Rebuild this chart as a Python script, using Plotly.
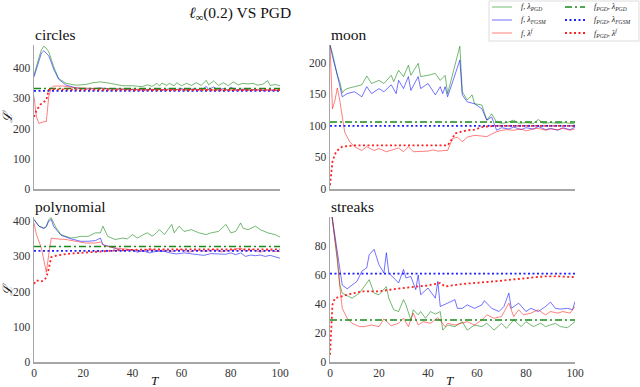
import plotly.graph_objects as go

# ---------------- data ----------------
# circles
circles_t_green = [0,1,2,3,4,5,6,7,8,10,13,17,21,24,27,31,36,40,44,46,48,50,51,52,54,55,57,58,60,62,64,66,68,70,71,73,75,77,79,81,83,85,87,89,91,93,95,96,98,100]
circles_green = [377,410,435,460,473,466,455,430,405,366,350,344,346,352,355,350,342,342,339,345,340,350,341,351,343,350,342,352,342,350,343,352,343,360,345,358,343,352,342,355,345,350,348,350,344,347,359,343,346,342]
circles_t_blue = [0,1,2,3,4,5,6,7,8,10,13,17,21,25,27,30,35,40,45,50,52,55,57,60,62,65,68,70,71,73,75,77,79,80,82,85,88,90,93,95,98,100]
circles_blue = [371,400,425,450,458,449,441,420,397,364,344,335,331,333,335,332,331,330,328,331,327,332,328,333,327,332,327,340,329,338,328,333,327,338,328,331,327,330,326,328,327,326]
circles_t_red = [0,1,2,3,4,5,6,7,8,12,17,27,35,45,55,65,75,85,95,100]
circles_red = [306,239,217,220,223,223,306,335,341,341,335,333,331,330,329,330,328,329,328,328]
circles_t_reddot = [0,1,3,5,6,7,10,20,40,60,80,100]
circles_reddot = [239,261,283,294,328,331,330,329,328,328,328,328]
circles_pgd_pgd = 333
circles_pgd_fgsm = 325

# moon
moon_t_green = [0,1,3,4,5,6,7,10,13,15,17,20,22,25,26,28,30,32,33,36,37,40,43,45,47,48,50,53,54,56,58,59,62,64,66,68,70,72,75,77,80,83,85,87,90,93,96,100]
moon_green = [228,215,180,170,152,157,159,162,165,179,167,172,167,180,170,188,178,196,180,199,178,180,183,172,180,151,180,226,154,141,149,135,133,109,119,106,104,105,109,104,105,104,110,104,105,104,105,103]
moon_t_blue = [0,1,3,5,7,10,13,15,17,20,22,25,27,28,30,32,33,36,37,40,43,45,46,47,48,53,54,56,59,62,64,66,68,70,73,75,78,80,83,85,88,90,93,95,98,100]
moon_blue = [228,210,180,146,151,154,146,162,151,159,154,165,151,172,159,178,156,178,159,167,149,162,151,162,146,204,149,138,135,127,109,114,93,97,95,98,94,97,95,99,94,96,93,97,94,98]
moon_t_red = [0,1,2,3,4,5,6,8,10,13,15,18,20,23,25,28,30,32,34,37,40,42,44,47,48,50,52,54,56,59,62,64,67,69,72,75,78,80,83,85,88,90,93,95,98,100]
moon_red = [228,127,140,160,140,115,90,75,67,61,67,61,64,59,61,65,59,67,59,59,60,62,60,61,61,80,82,75,82,85,84,83,89,92,94,93,95,92,95,96,93,95,94,96,93,95]
moon_t_reddot = [0,1,2,3,5,7,10,20,30,40,48,50,51,53,56,59,62,67,75,85,100]
moon_reddot = [6,43,55,61,67,68,69,69,69,69,69,80,88,90,93,94,98,100,100,99,100]
moon_pgd_pgd = 106
moon_pgd_fgsm = 100

# polynomial
poly_t_green = [0,2,4,5,6,7,8,9,11,13,15,17,19,22,25,27,28,30,33,36,38,40,42,44,46,48,49,51,53,56,57,59,61,64,66,67,70,72,75,78,80,82,84,85,87,90,92,94,95,98,100]
poly_green = [405,386,381,385,405,410,395,381,362,357,352,354,357,357,367,367,386,357,348,352,350,362,352,360,367,358,362,376,362,391,367,386,371,376,369,367,362,367,371,391,367,371,395,380,376,386,376,370,367,362,355]
poly_t_blue = [0,2,4,5,6,7,8,9,11,15,19,22,25,27,28,30,33,36,40,42,44,47,50,53,56,58,61,64,67,69,72,75,78,80,82,84,86,88,90,92,94,96,98,100]
poly_blue = [405,386,379,385,400,405,385,376,360,350,343,343,345,352,333,330,322,316,319,312,316,310,315,314,309,307,310,307,305,303,308,307,306,310,305,310,300,304,302,304,300,303,298,295]
poly_t_red = [0,1,3,4,5,6,7,9,13,17,21,25,27,29,33,40,44,47,50,53,56,60,63,66,70,73,76,80,84,86,89,92,95,98,100]
poly_red = [395,362,324,286,255,305,352,350,348,343,338,338,341,329,324,319,315,322,316,318,314,320,312,318,314,320,313,318,324,315,320,312,318,314,314]
poly_t_reddot = [0,1,3,4,5,6,7,9,13,19,25,35,50,70,85,100]
poly_reddot = [222,232,229,232,240,265,298,302,307,310,314,318,320,320,321,320]
poly_pgd_pgd = 328
poly_pgd_fgsm = 316

# streaks
streaks_t_blue = [0,1,3,4,5,7,9,11,13,15,16,17,18,20,22,23,24,26,28,30,31,33,35,36,37,40,43,44,45,48,51,52,54,56,59,62,63,66,69,71,73,74,77,80,82,85,88,90,92,94,97,99,100]
streaks_blue = [110,98,76,63,53,50.5,53,55.6,62.6,65,74,76,77.7,67,61.4,75.4,61.4,58,54.5,63.8,58,59,49.9,60,46.4,51,44,55.6,38.3,40.6,43,37,37,39.4,37,39.4,42.3,37,34.8,38.3,47.5,37,40.6,34.8,37,34.8,38.3,41.3,37,36.5,37,36,41.7]
streaks_t_green = [0,1,3,4,5,8,9,12,14,16,18,20,23,24,26,28,30,31,33,34,36,37,39,41,43,45,46,48,51,54,56,59,62,64,67,70,72,75,78,80,83,86,88,92,94,97,100]
streaks_green = [110,98,69.6,53.3,47.5,45.2,44,47.5,52,56.8,47.5,46.4,52,44,36,34.8,43,39.4,29,36,32.5,34.8,30.2,34.8,33,34.8,22,25.5,24.4,27.8,22,25.5,24.4,26.7,22,26.7,23.2,29,24.4,27.8,24.4,26.7,24.4,26.7,24.4,23.7,27.8]
streaks_t_red = [0,1,3,4,5,7,9,12,14,17,20,22,25,28,30,32,34,36,38,41,44,47,48,51,54,56,59,62,64,67,70,73,75,77,79,82,85,88,90,93,95,98,100]
streaks_red = [110,98,72,52,37,30.2,26.7,24.4,24.4,25.5,24.4,29.7,25,26.7,30.2,24.4,33.7,25.5,27.8,26.7,30.6,24.4,26.7,25.5,26.7,27.8,25.5,29,32.5,30.2,31.3,40.6,31.3,36,32.5,33.7,36,32.5,34.8,33.7,34.8,33.7,38.3]
streaks_t_reddot = [0,1,2,4,7,13,20,27,33,40,45,47,54,60,67,74,80,87,94,100]
streaks_reddot = [5,39.4,44,45,46.4,48.7,48.7,50.5,51.5,52.8,54.5,52.1,53.8,54.5,55.6,56.8,58,59,59,58.5]
streaks_pgd_pgd = 29
streaks_pgd_fgsm = 61

panel_names = ["circles", "moon", "polynomial", "streaks"]
y_max = [477, 228, 412, 100]
y_ticks = [[0,100,200,300,400], [0,50,100,150,200], [0,100,200,300,400], [0,20,40,60,80]]
T_range = [0, 100]
T_ticks = [0, 20, 40, 60, 80, 100]

legend_names = [
    "<i>f</i>, <i>λ<sub>PGD</sub></i>",
    "<i>f</i>, <i>λ<sub>FGSM</sub></i>",
    "<i>f</i>, <i>λ<sup>f</sup></i>",
    "<i>f<sub>PGD</sub></i>, <i>λ<sub>PGD</sub></i>",
    "<i>f<sub>PGD</sub></i>, <i>λ<sub>FGSM</sub></i>",
    "<i>f<sub>PGD</sub></i>, <i>λ<sup>f</sup></i>",
]

panels = [
    dict(green=(circles_t_green, circles_green), blue=(circles_t_blue, circles_blue),
         red=(circles_t_red, circles_red), reddot=(circles_t_reddot, circles_reddot),
         pp=circles_pgd_pgd, pf=circles_pgd_fgsm),
    dict(green=(moon_t_green, moon_green), blue=(moon_t_blue, moon_blue),
         red=(moon_t_red, moon_red), reddot=(moon_t_reddot, moon_reddot),
         pp=moon_pgd_pgd, pf=moon_pgd_fgsm),
    dict(green=(poly_t_green, poly_green), blue=(poly_t_blue, poly_blue),
         red=(poly_t_red, poly_red), reddot=(poly_t_reddot, poly_reddot),
         pp=poly_pgd_pgd, pf=poly_pgd_fgsm),
    dict(green=(streaks_t_green, streaks_green), blue=(streaks_t_blue, streaks_blue),
         red=(streaks_t_red, streaks_red), reddot=(streaks_t_reddot, streaks_reddot),
         pp=streaks_pgd_pgd, pf=streaks_pgd_fgsm),
]

# ---------------- layout geometry ----------------
W, H = 640, 387
def px_x(p): return p / W
def px_y(p): return 1 - p / H

x_domains = [(34, 280), (330, 575), (34, 280), (330, 575)]
y_domains = [(45, 189), (45, 189), (217, 362), (217, 362)]

SERIF = "'Liberation Serif', 'Times New Roman', Times, 'DejaVu Serif', serif"
GREEN_L = "rgba(0,128,0,0.55)"
BLUE_L = "rgba(0,0,255,0.55)"
RED_L = "rgba(255,0,0,0.5)"
GREEN_D = "#1a8a1a"
BLUE_D = "#1f1fff"
RED_D = "#ff2020"
styles = [
    (GREEN_L, 1, "solid"), (BLUE_L, 1, "solid"), (RED_L, 1, "solid"),
    (GREEN_D, 1.6, "7px,3px,2px,3px"), (BLUE_D, 1.8, "2px,2.5px"), (RED_D, 1.8, "2px,2.5px"),
]

fig = go.Figure()
for i, p in enumerate(panels):
    xa = "x" if i == 0 else f"x{i+1}"
    ya = "y" if i == 0 else f"y{i+1}"
    series = [p["green"], p["blue"], p["red"],
              (T_range, [p["pp"], p["pp"]]), (T_range, [p["pf"], p["pf"]]), p["reddot"]]
    for k, (x, y) in enumerate(series):
        c, w, d = styles[k]
        fig.add_trace(go.Scatter(x=x, y=y, mode="lines", name=legend_names[k],
                                 line=dict(color=c, width=w, dash=d),
                                 xaxis=xa, yaxis=ya, showlegend=False, hoverinfo="skip"))

axis_common = dict(showgrid=False, zeroline=False, showline=True, linecolor="#a6a6a6",
                   linewidth=1.5, ticks="", automargin=False,
                   tickfont=dict(family=SERIF, size=11.5, color="#333"))
for i in range(4):
    xk = "xaxis" if i == 0 else f"xaxis{i+1}"
    yk = "yaxis" if i == 0 else f"yaxis{i+1}"
    ya = "y" if i == 0 else f"y{i+1}"
    xa = "x" if i == 0 else f"x{i+1}"
    xd = x_domains[i]; yd = y_domains[i]
    fig.update_layout({
        xk: dict(axis_common, domain=[px_x(xd[0]), px_x(xd[1])], range=T_range,
                 tickvals=T_ticks, showticklabels=(i >= 2), anchor=ya),
        yk: dict(axis_common, domain=[px_y(yd[1]), px_y(yd[0])], range=[0, y_max[i]],
                 tickvals=y_ticks[i], anchor=xa),
    })

ann = []
shapes = []
# subplot titles
title_pos = [(33, 35), (329, 35), (33, 207), (329, 207)]
for name, (x, y) in zip(panel_names, title_pos):
    ann.append(dict(text=name, x=px_x(x), y=px_y(y), xref="paper", yref="paper",
                    xanchor="left", yanchor="middle", showarrow=False,
                    font=dict(family=SERIF, size=15.5, color="#111")))
# y labels
for y in (117, 290):
    ann.append(dict(text="<i>ℒ</i>", x=px_x(7), y=px_y(y), xref="paper", yref="paper",
                    xanchor="center", yanchor="middle", textangle=-90, showarrow=False,
                    font=dict(family=SERIF, size=13, color="#111")))
# x labels
for x in (155, 450):
    ann.append(dict(text="<i>T</i>", x=px_x(x), y=px_y(380), xref="paper", yref="paper",
                    xanchor="center", yanchor="middle", showarrow=False,
                    font=dict(family=SERIF, size=13, color="#111")))
# main title
ann.append(dict(text="<i>ℓ</i><sub>∞</sub>(0.2) VS PGD", x=px_x(240), y=px_y(13),
                xref="paper", yref="paper", xanchor="center", yanchor="middle",
                showarrow=False, font=dict(family=SERIF, size=15.5, color="#111")))

# legend (drawn as a compact two-column key)
shapes.append(dict(type="rect", xref="paper", yref="paper", x0=px_x(489), x1=px_x(639),
                   y0=px_y(41), y1=px_y(1), line=dict(color="#dddddd", width=1),
                   fillcolor="rgba(255,255,255,0.8)", layer="above"))
row_y = [7, 20, 33]
col_x = [(492, 512, 519), (565, 585, 592)]
for k in range(6):
    col = k // 3; row = k % 3
    x0, x1, xt = col_x[col]
    c, w, d = styles[k]
    shapes.append(dict(type="line", xref="paper", yref="paper", x0=px_x(x0), x1=px_x(x1),
                       y0=px_y(row_y[row]), y1=px_y(row_y[row]),
                       line=dict(color=c, width=w, dash=d), layer="above"))
    ann.append(dict(text=legend_names[k], x=px_x(xt), y=px_y(row_y[row]), xref="paper",
                    yref="paper", xanchor="left", yanchor="middle", showarrow=False,
                    font=dict(family=SERIF, size=8, color="#222")))

fig.update_layout(
    width=W, height=H, margin=dict(l=0, r=0, t=0, b=0, autoexpand=False),
    paper_bgcolor="white", plot_bgcolor="white",
    font=dict(family=SERIF),
    annotations=ann, shapes=shapes, showlegend=False,
)

fig.write_html("out.html",
               config={"displayModeBar": False, "staticPlot": True},
               post_script="document.body.style.margin='0';document.body.style.padding='0';"
                           "document.body.style.overflow='hidden';")
